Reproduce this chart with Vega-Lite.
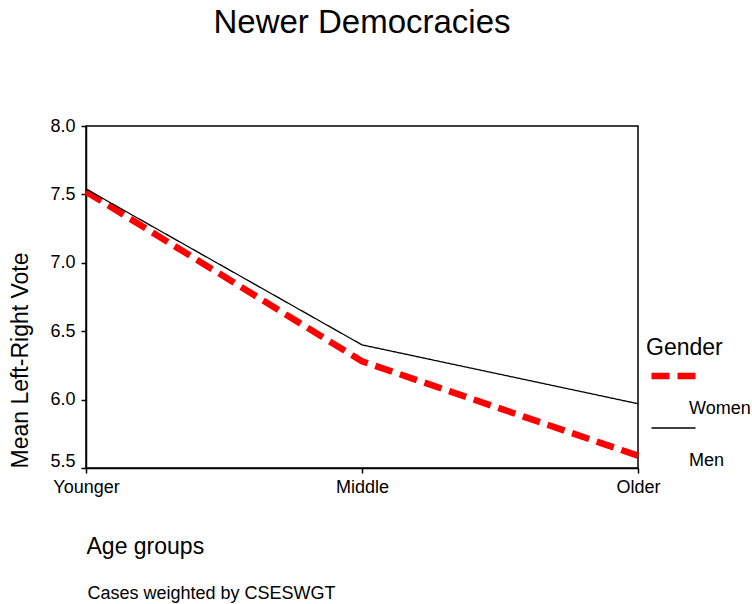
{
  "$schema": "https://vega.github.io/schema/vega-lite/v6.json",
  "autosize": "none",
  "width": 552,
  "height": 342,
  "padding": {"left": 86, "top": 126, "right": 114, "bottom": 136},
  "background": "white",
  "config": {
    "font": "Liberation Sans",
    "view": {"stroke": "#000", "strokeWidth": 1.5},
    "axis": {"grid": false, "domainColor": "#000", "domainWidth": 1.5, "tickColor": "#000", "tickWidth": 1.5, "tickSize": 5, "labelColor": "#000", "labelFont": "Liberation Sans", "titleFont": "Liberation Sans", "titleColor": "#000", "titleFontWeight": "normal"}
  },
  "title": {"text": "Newer Democracies", "fontSize": 33, "fontWeight": "normal", "font": "Liberation Sans", "color": "#000", "anchor": "middle", "offset": 77},
  "data": {"values": [
    {"age": "Younger", "gender": "Women", "vote": 7.52},
    {"age": "Middle", "gender": "Women", "vote": 6.28},
    {"age": "Older", "gender": "Women", "vote": 5.59},
    {"age": "Younger", "gender": "Men", "vote": 7.54},
    {"age": "Middle", "gender": "Men", "vote": 6.40},
    {"age": "Older", "gender": "Men", "vote": 5.97}
  ]},
  "resolve": {"axis": {"x": "independent"}},
  "layer": [
    {
      "transform": [{"filter": "datum.gender === 'Women'"}],
      "mark": {"type": "line", "strokeCap": "butt"},
      "encoding": {
        "x": {"field": "age", "type": "ordinal", "scale": {"type": "point", "domain": ["Younger", "Middle", "Older"], "padding": 0},
          "axis": {"title": "Age groups", "labelAngle": 0, "labelFontSize": 18, "titleFontSize": 23, "titleAnchor": "start", "titleAlign": "left", "titleX": 0, "titleY": 85, "titleBaseline": "alphabetic", "labelPadding": 5}},
        "y": {"field": "vote", "type": "quantitative", "scale": {"domain": [5.5, 8.0], "nice": false, "zero": false},
          "axis": {"title": "Mean Left-Right Vote", "values": [5.5, 6.0, 6.5, 7.0, 7.5, 8.0], "format": ".1f", "labelFontSize": 18, "titleFontSize": 23, "titleX": -66, "titleY": 234, "titleAngle": -90, "titleAlign": "center", "titleBaseline": "middle", "labelPadding": 6,
            "labelOffset": {"condition": {"test": "datum.value === 5.5", "value": -7}, "value": 0}}},
        "color": {"field": "gender", "type": "nominal", "scale": {"domain": ["Women", "Men"], "range": ["#ff0000", "#000000"]},
          "legend": {"title": "Gender", "orient": "none", "legendX": 560, "legendY": 211, "titleFontSize": 23, "titleFontWeight": "normal", "titleColor": "#000", "labelFontSize": 18, "labelColor": "#000", "symbolType": "M-4,0H4", "symbolSize": 121, "symbolOffset": 18.5, "labelOffset": 6.5, "rowPadding": 1, "titlePadding": 7,
            "encode": {"labels": {"update": {"dy": {"value": 33}}}}}},
        "strokeDash": {"field": "gender", "type": "nominal", "scale": {"domain": ["Women", "Men"], "range": [[18, 8], [1, 0]]}},
        "strokeWidth": {"field": "gender", "type": "nominal", "scale": {"domain": ["Women", "Men"], "range": [6.5, 1.3]}}
      }
    },
    {
      "transform": [{"filter": "datum.gender === 'Men'"}],
      "mark": {"type": "line", "strokeCap": "butt"},
      "encoding": {
        "x": {"field": "age", "type": "ordinal", "scale": {"type": "point", "domain": ["Younger", "Middle", "Older"], "padding": 0},
          "axis": {"orient": "bottom", "title": "Cases weighted by CSESWGT", "labels": false, "ticks": false, "domain": false, "titleFontSize": 18, "titleAnchor": "start", "titleAlign": "left", "titleX": 1, "titleY": 130, "titleBaseline": "alphabetic"}},
        "y": {"field": "vote", "type": "quantitative"},
        "color": {"field": "gender", "type": "nominal"},
        "strokeDash": {"field": "gender", "type": "nominal"},
        "strokeWidth": {"field": "gender", "type": "nominal"}
      }
    }
  ]
}
